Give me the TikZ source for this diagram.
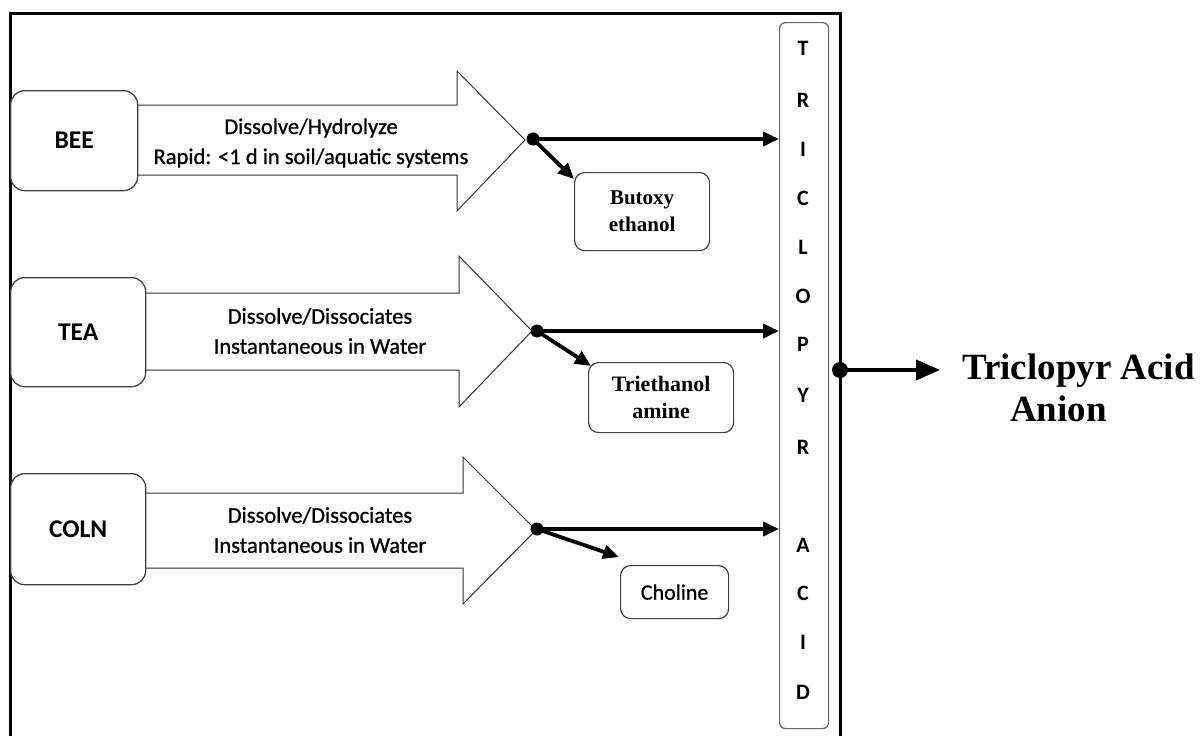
\documentclass[tikz,border=0pt]{standalone}
\usepackage{fontspec}
\setmainfont{Liberation Serif}
\newfontfamily\carlfont[FakeBold=0.8]{Carlito}
\newfontfamily\carlbold{Carlito Bold}
\newfontfamily\tnrfont{Liberation Serif}
\usetikzlibrary{arrows.meta,calc}
\begin{document}
\begin{tikzpicture}[x=1pt,y=-1pt,
  srcbox/.style={draw=black!75,line width=1.3pt,rounded corners=14pt},
  prodbox/.style={draw=black!75,line width=1.2pt,rounded corners=10pt},
  bigarrow/.style={draw=black!80,line width=1pt,fill=white},
  conn/.style={line width=3.8pt,-{Triangle[length=16pt,width=14pt]}},
  dotc/.style={circle,fill=black,inner sep=0pt,minimum size=13pt},
  lbl/.style={font=\carlfont\fontsize{22.5}{30}\selectfont,align=center,inner sep=0pt},
  srclbl/.style={font=\carlbold\fontsize{25.5}{30}\selectfont,inner sep=0pt},
  col/.style={font=\carlbold\fontsize{22}{26}\selectfont,inner sep=0pt}]
\useasboundingbox (0,0) rectangle (1200,736);
% outer frame
\draw[line width=3pt] (10,745) -- (10,13) -- (840,13) -- (840,745);
% big arrows
\draw[bigarrow] (130,105) -- (457,105) -- (457,71) -- (525,140) -- (457,211) -- (457,175) -- (130,175);
\draw[bigarrow] (135,293) -- (459,293) -- (459,256) -- (532,331) -- (459,407) -- (459,370) -- (135,370);
\draw[bigarrow] (135,493) -- (463,493) -- (463,457) -- (536,530) -- (463,604) -- (463,568) -- (135,568);
% arrow labels
\node[lbl] at (311,143) {Dissolve/Hydrolyze\\Rapid: <1 d in soil/aquatic systems};
\node[lbl] at (320,331) {Dissolve/Dissociates\\Instantaneous in Water};
\node[lbl] at (320,530) {Dissolve/Dissociates\\Instantaneous in Water};
% source boxes
\node[srcbox,fill=white,minimum width=127pt,minimum height=100pt,anchor=north west] (bee) at (10,90) {};
\node[srclbl] at (bee.center) {BEE};
\node[srcbox,fill=white,minimum width=135pt,minimum height=109pt,anchor=north west] (tea) at (10,277) {};
\node[srclbl] at (tea.center) {TEA};
\node[srcbox,fill=white,minimum width=135pt,minimum height=111pt,anchor=north west] (coln) at (10,473) {};
\node[srclbl] at (coln.center) {COLN};
% acid column
\node[draw=black!60,line width=1.2pt,rounded corners=6pt,minimum width=49pt,minimum height=706pt,anchor=north west] (acid) at (779,22) {};
\foreach \l/\y in {T/48,R/100,I/149,C/198,L/247,O/296,P/344,Y/395,R/447,A/545,C/593,I/642,D/692}
  \node[col] at (803,\y) {\l};
% product boxes
\node[prodbox,minimum width=135pt,minimum height=78pt,anchor=north west] (but) at (574,172) {};
\node[font=\tnrfont\bfseries\fontsize{21}{27}\selectfont,align=center,inner sep=0pt] at (but.center) {Butoxy\\ethanol};
\node[prodbox,minimum width=145pt,minimum height=70pt,anchor=north west] (trie) at (588,362) {};
\node[font=\tnrfont\bfseries\fontsize{22}{27}\selectfont,align=center,inner sep=0pt] at (trie.center) {Triethanol\\amine};
\node[prodbox,minimum width=108pt,minimum height=53pt,anchor=north west] (chol) at (620,565) {};
\node[lbl,font=\carlfont\fontsize{22}{26}\selectfont] at (chol.center) {Choline};
% junction dots
\node[dotc] (d1) at (533,139) {};
\node[dotc] (d2) at (537,331) {};
\node[dotc] (d3) at (537,529) {};
\coordinate (t1) at (574,179);
\coordinate (t2) at (591,366);
\coordinate (t3) at (619,557);
% connectors
\draw[conn] (d1.center) -- (d1.center -| acid.west);
\draw[conn] (d2.center) -- (d2.center -| acid.west);
\draw[conn] (d3.center) -- (d3.center -| acid.west);
\draw[conn] (d1.center) -- (t1);
\draw[conn] (d2.center) -- (t2);
\draw[conn] (d3.center) -- (t3);
% output
\node[circle,fill=black,inner sep=0pt,minimum size=16pt] (fd) at (840,370) {};
\node[font=\tnrfont\bfseries\fontsize{37}{42}\selectfont,align=left,anchor=west,inner sep=0pt] (anion) at (962,388) {Triclopyr Acid\\\hspace*{48pt}Anion};
\coordinate (fe) at (anion.west |- fd.center);
\draw[line width=4pt,-{Triangle[length=24pt,width=20pt]}] (fd.center) -- ($(fe)+(-22,0)$);
\end{tikzpicture}
\end{document}
